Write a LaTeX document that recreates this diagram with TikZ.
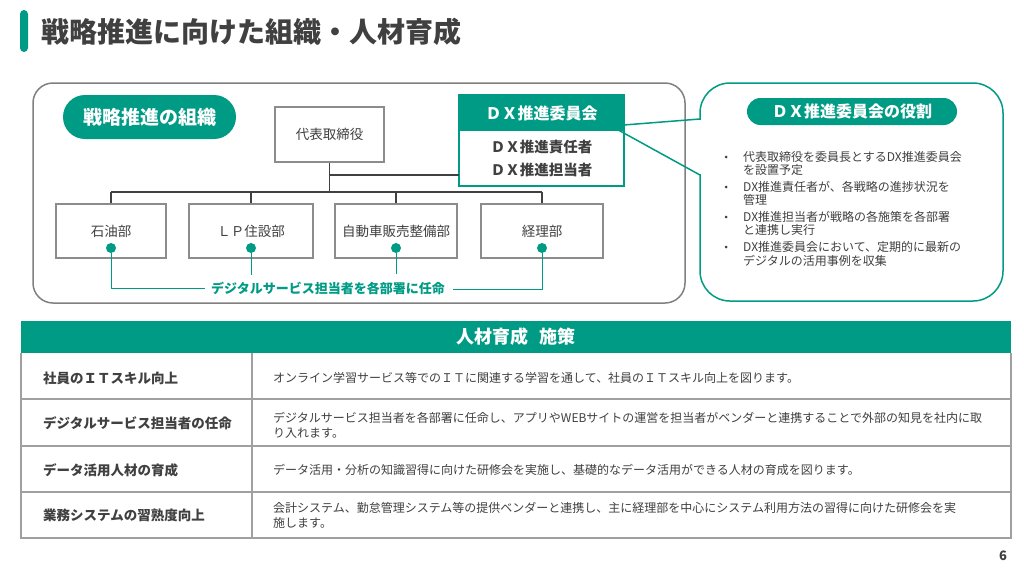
\documentclass[tikz,border=0pt]{standalone}
\usepackage{fontspec}
\setmainfont{Noto Sans CJK JP}
\definecolor{tg}{RGB}{0,155,133}
\definecolor{txt}{RGB}{64,64,64}
\definecolor{bgray}{RGB}{140,140,140}
\definecolor{ogray}{RGB}{128,128,128}
\definecolor{tgray}{RGB}{160,160,160}
\begin{document}
\begin{tikzpicture}[x=1pt,y=-1pt,
  every node/.style={inner sep=0pt, text=txt},
  conn/.style={draw=txt, line width=1.2pt},
  tl/.style={draw=tg, line width=0.9pt},
  dbox/.style={draw=bgray, line width=1.3pt, minimum width=#1, minimum height=54, fill=white, font=\fontsize{13.5}{16}\selectfont},
  dot/.style={circle, fill=tg, minimum size=10},
  bdot/.style={circle, fill=txt, minimum size=3},
  bul/.style={anchor=west, align=left, font=\fontsize{12}{13.5}\selectfont},
  lcol/.style={anchor=west, font=\bfseries\fontsize{13.5}{16}\selectfont},
  rcol/.style={anchor=west, align=left, font=\fontsize{12}{15}\selectfont},
  tline/.style={draw=tgray, line width=1.5pt}
]
\useasboundingbox[fill=white] (0,0) rectangle (1024,576);

% title
\fill[tg, rounded corners=4] (20,10) rectangle (28,52);
\node[anchor=west, font=\bfseries\fontsize{28}{30}\selectfont] (title) at (41,32) {戦略推進に向けた組織・人材育成};

% outer organisation frame
\draw[ogray, line width=1.5pt, rounded corners=20] (33,83) rectangle (685,303);
\fill[tg, rounded corners=22] (63,95) rectangle (236,139);
\node[text=white, font=\bfseries\fontsize{19}{19}\selectfont] (orgt) at (149.5,117) {戦略推進の組織};

% boss and DX committee
\node[draw=bgray, line width=1.3pt, minimum width=109, minimum height=55, font=\fontsize{13.5}{16}\selectfont] (boss) at (329.5,134.5) {代表取締役};
\node[draw=tg, line width=1.5pt, minimum width=165, minimum height=91, fill=white] (dx) at (541.5,140.5) {};
\fill[tg] (459,95) rectangle (624,131);
\node[text=white, font=\bfseries\fontsize{16}{16}\selectfont] (dxh) at (541.5,113.5) {ＤＸ推進委員会};
\node[font=\bfseries\fontsize{14.5}{16}\selectfont] (dxa) at (541.5,147) {ＤＸ推進責任者};
\node[font=\bfseries\fontsize{14.5}{16}\selectfont] (dxb) at (541.5,170) {ＤＸ推進担当者};

% departments
\node[dbox=110] (oil) at (111,231) {石油部};
\node[dbox=124] (lp) at (251,231) {ＬＰ住設部};
\node[dbox=122] (car) at (396,231) {自動車販売整備部};
\node[dbox=122] (acc) at (542,231) {経理部};

% connectors
\coordinate (busL) at (111,192);
\coordinate (busR) at (542,192);
\coordinate (dxj) at (459,175);
\draw[conn] (busL) -- (busR);
\draw[conn] (boss.south) -- (boss.south |- busL);
\draw[conn] (boss.south |- dxj) -- (dxj);
\draw[conn] (oil.north) -- (oil.north |- busL);
\draw[conn] (lp.north) -- (lp.north |- busL);
\draw[conn] (car.north) -- (car.north |- busL);
\draw[conn] (acc.north) -- (acc.north |- busL);

% teal assignment lines
\node[dot] (d1) at (111,248) {};
\node[dot] (d2) at (251,248) {};
\node[dot] (d3) at (396,248) {};
\node[dot] (d4) at (542,248) {};
\node[text=tg, font=\bfseries\fontsize{13}{13}\selectfont] (lab) at (328,288) {デジタルサービス担当者を各部署に任命};
\coordinate (labL) at (205,288);
\coordinate (labR) at (453,289);
\coordinate (j2) at (251,275);
\coordinate (j3) at (396,274);
\draw[tl] (d1) -- (d1 |- labL) -- (labL);
\draw[tl] (d4) -- (d4 |- labR) -- (labR);
\draw[tl] (d2) -- (j2);
\draw[tl] (d3) -- (j3);

% callout
\draw[tg, line width=1.5pt, rounded corners=30, fill=white] (700,83) rectangle (1003,301);
\fill[white] (698.5,120) rectangle (701.8,174.2);
\coordinate (cTop) at (700,119);
\coordinate (cBot) at (700,175);
\coordinate (tip) at (611,126);
\draw[tg, line width=1.5pt, line join=miter] (cTop) -- (tip) -- (cBot);
\fill[tg, rounded corners=13.5] (747,98) rectangle (957,125);
\node[text=white, font=\bfseries\fontsize{16}{16}\selectfont] (rolet) at (852,111.5) {ＤＸ推進委員会の役割};

\node[bdot] (b1) at (726,157) {};
\node[bdot] (b2) at (726,187) {};
\node[bdot] (b3) at (726,217) {};
\node[bdot] (b4) at (726,247) {};
\node[bul] (i1) at (743,163.5) {代表取締役を委員長とするDX推進委員会\\を設置予定};
\node[bul] (i2) at (743,193.5) {DX推進責任者が、各戦略の進捗状況を\\管理};
\node[bul] (i3) at (743,223.5) {DX推進担当者が戦略の各施策を各部署\\と連携し実行};
\node[bul] (i4) at (743,254) {DX推進委員会において、定期的に最新の\\デジタルの活用事例を収集};

% table
\fill[tg] (21,321) rectangle (1011,353);
\node[text=white, font=\bfseries\fontsize{18}{18}\selectfont] (th) at (516,337) {人材育成\hspace{0.6em}施策};
\draw[tline] (21,353) -- (21,538) -- (1011,538) -- (1011,353);
\draw[tline] (252,353) -- (252,538);
\draw[tline] (21,399) -- (1011,399);
\draw[tline] (21,446) -- (1011,446);
\draw[tline] (21,492) -- (1011,492);

\node[lcol] (r1l) at (43,378) {社員のＩＴスキル向上};
\node[lcol] (r2l) at (43,423) {デジタルサービス担当者の任命};
\node[lcol] (r3l) at (43,470) {データ活用人材の育成};
\node[lcol] (r4l) at (43,515) {業務システムの習熟度向上};

\node[rcol] (r1r) at (273,378) {オンライン学習サービス等でのＩＴに関連する学習を通して、社員のＩＴスキル向上を図ります。};
\node[rcol] (r2r) at (273,425.5) {デジタルサービス担当者を各部署に任命し、アプリやWEBサイトの運営を担当者がベンダーと連携することで外部の知見を社内に取\\り入れます。};
\node[rcol] (r3r) at (273,470) {データ活用・分析の知識習得に向けた研修会を実施し、基礎的なデータ活用ができる人材の育成を図ります。};
\node[rcol] (r4r) at (273,515.5) {会計システム、勤怠管理システム等の提供ベンダーと連携し、主に経理部を中心にシステム利用方法の習得に向けた研修会を実\\施します。};

\node[font=\bfseries\fontsize{13}{13}\selectfont] (pg) at (1003,556) {6};
\end{tikzpicture}
\end{document}
